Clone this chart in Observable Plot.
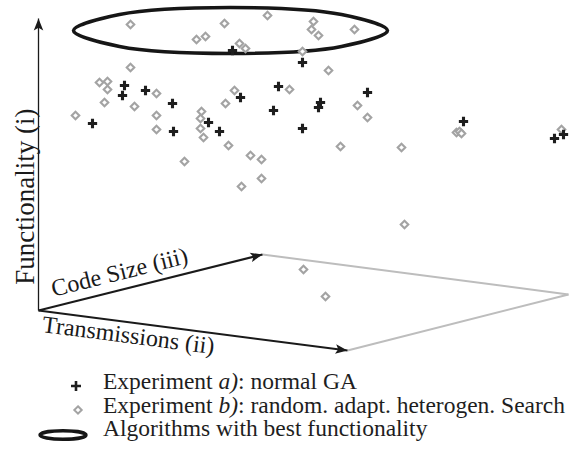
<!DOCTYPE html>
<html><head><meta charset="utf-8">
<script src="https://cdn.jsdelivr.net/npm/d3@7"></script>
<script src="https://cdn.jsdelivr.net/npm/@observablehq/plot@0.6"></script>
<style>
body{margin:0;background:#fff;font-family:"Liberation Serif","Times New Roman",serif;}
#legend{position:relative;margin-top:5px;font-size:23.5px;line-height:23.5px;color:#1e1e1e;}
.row{position:relative;padding-left:103px;height:23.5px;white-space:nowrap;}
.mk{position:absolute;}
</style></head><body>
<div id="chart"></div>
<div id="legend"></div>
<script>
// Projected positions (chart units) of the results of experiment a) normal GA
const expA = [
  [232,50],[302,62],[124,85],[122,95],[145,90],[172,103],[173,131],[92,123],
  [208,122],[219,131],[240,97],[278,86],[273,110],[320,102],[318,107],[367,92],
  [302,128],[463,121],[554,138],[563,134]
];
// Projected positions of experiment b) random adaptive heterogeneous search
const expB = [
  [130,24],[224,23],[267,15],[196,39],[205,36],[239,43],[245,48],[313,21],
  [311,29],[318,35],[354,29],[302,51],[130,67],[99,82],[107,81],[107,89],
  [104,102],[134,106],[75,115],[156,93],[156,115],[156,129],[201,111],[200,118],
  [200,128],[203,137],[228,145],[225,103],[234,90],[250,155],[261,159],[184,161],
  [261,178],[241,186],[289,89],[328,70],[357,105],[367,117],[340,146],[401,147],
  [404,224],[303,269],[325,296],[456,132],[459,131],[461,133],[561,129]
];
// Outline of the region "algorithms with best functionality"
const bestRegion = [
  [73,30],[119,14],[230,7],[341,14],[387,30],[341,46],[230,53],[119,46]
];
// The three axes of the pseudo-3D view
const axes = [
  {name:"Functionality (i)",  x1:38, y1:310, x2:38,  y2:18},
  {name:"Code Size (iii)",    x1:38, y1:310, x2:262, y2:254},
  {name:"Transmissions (ii)", x1:38, y1:310, x2:347, y2:350}
];
// Far edges of the ground plane
const planeEdges = [
  {x1:262, y1:254, x2:568, y2:294},
  {x1:568, y1:294, x2:347, y2:350}
];
const legendItems = [
  {key:"a", html:"Experiment <i>a)</i>: normal GA"},
  {key:"b", html:"Experiment <i>b)</i>: random. adapt. heterogen. Search"},
  {key:"best", html:"Algorithms with best functionality"}
];

const W = 569, H = 365;
const angle = d => Math.atan2(d.y2 - d.y1, d.x2 - d.x1) * 180 / Math.PI;
const lerp = (a, b, t) => a + (b - a) * t;
const arrowHead = {
  draw(ctx, size) {
    const s = Math.sqrt(size / Math.PI);
    const h = 2.4 * s, w = 1.9 * s;
    ctx.moveTo(0, 0);
    ctx.lineTo(w / 2, h);
    ctx.lineTo(0, h * 0.78);
    ctx.lineTo(-w / 2, h);
    ctx.closePath();
  }
};
const font = "Liberation Serif";
const labelMark = (i, t, opts) => Plot.text([axes[i]], {
  x: d => lerp(d.x1, d.x2, t), y: d => lerp(d.y1, d.y2, t),
  text: d => d.name, rotate: angle(axes[i]),
  fontFamily: font, fill: "#1a1a1a", lineAnchor: "bottom", ...opts
});

const chart = Plot.plot({
  width: W, height: H, margin: 0,
  x: {domain: [0, W], axis: null},
  y: {domain: [H, 0], axis: null},
  marks: [
    Plot.line(bestRegion, {x: d => d[0], y: d => d[1], curve: "catmull-rom-closed", stroke: "#161616", strokeWidth: 3.6}),
    Plot.link(planeEdges, {x1: "x1", y1: "y1", x2: "x2", y2: "y2", stroke: "#bdbdbd", strokeWidth: 2}),
    Plot.link(axes.slice(0,1), {x1: "x1", y1: "y1", x2: "x2", y2: "y2", stroke: "#1a1a1a", strokeWidth: 1.3}),
    Plot.link(axes.slice(1), {x1: "x1", y1: "y1", x2: "x2", y2: "y2", stroke: "#1a1a1a", strokeWidth: 2}),
    Plot.dot(axes, {x: "x2", y: "y2", symbol: arrowHead, r: 5, rotate: d => angle(d) + 90, fill: "#1a1a1a", stroke: "none"}),
    Plot.dot(expB, {x: d => d[0], y: d => d[1], symbol: "diamond2", r: 3.4, stroke: "#a3a3a3", strokeWidth: 2.1, fill: "white"}),
    Plot.dot(expA, {x: d => d[0], y: d => d[1], symbol: "cross", r: 3.9, fill: "#1e1e1e", stroke: "none"}),
    labelMark(0, 0.39, {dx: -5, textAnchor: "middle", fontSize: 27}),
    labelMark(1, 0.067, {dy: -10, textAnchor: "start", fontSize: 24}),
    labelMark(2, 0.01, {dy: 21, textAnchor: "start", fontSize: 24})
  ]
});
document.getElementById("chart").append(chart);

const markers = {
  a: '<svg class="mk" style="left:70px;top:10px" width="12" height="12"><path d="M4.7,1H7.3V4.7H11V7.3H7.3V11H4.7V7.3H1V4.7H4.7Z" fill="#1e1e1e"/></svg>',
  b: '<svg class="mk" style="left:72px;top:10.5px" width="12" height="12"><path d="M6,2.3L9.7,6L6,9.7L2.3,6Z" fill="white" stroke="#a3a3a3" stroke-width="2"/></svg>',
  best: '<svg class="mk" style="left:36px;top:11px" width="56" height="14"><ellipse cx="27" cy="7" rx="23" ry="4.3" fill="none" stroke="#161616" stroke-width="3.4"/></svg>'
};
const legend = document.getElementById("legend");
for (const it of legendItems) {
  const row = document.createElement("div");
  row.className = "row";
  row.innerHTML = markers[it.key] + it.html;
  legend.append(row);
}
</script>
</body></html>
